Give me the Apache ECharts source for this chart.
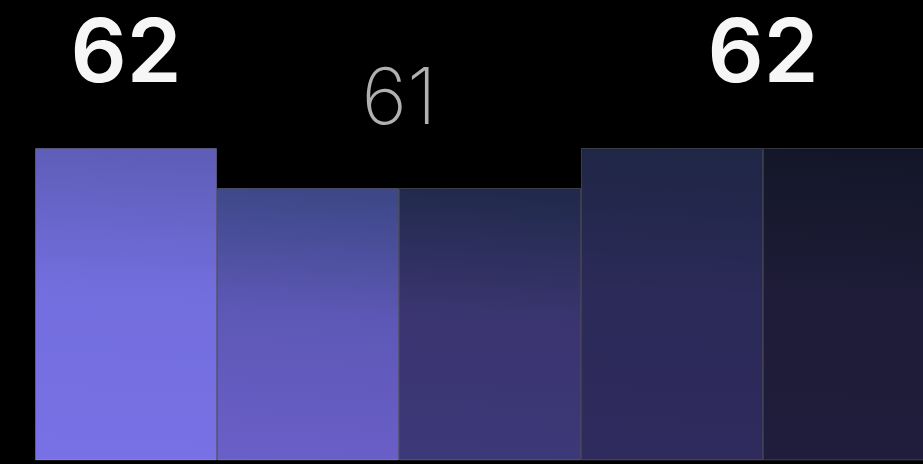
<!DOCTYPE html>
<html>
<head>
<meta charset="utf-8">
<script src="https://cdn.jsdelivr.net/npm/echarts@6/dist/echarts.min.js"></script>
<style>
html,body{margin:0;padding:0;background:#000;overflow:hidden;}
#chart{width:923px;height:464px;}
</style>
</head>
<body>
<div id="chart"></div>
<script>
// Data
var categories = ["1", "2", "3", "4", "5"];
var barValues = [62, 61, 61, 62, 62];
var labelPositions = [0, 1.5, 3.5];      // group centres on the category scale
var labelValues = [62, 61, 62];
var labelEmphasis = [true, false, true];

// Styles
var gradients = [
  ["#5e5eb8", "#736ede", "#7871e6"],
  ["#3e4888", "#5d58b6", "#6a5fc8"],
  ["#212a4c", "#3a3570", "#3d3878"],
  ["#1f2646", "#2b2a58", "#302b5e"],
  ["#131628", "#1e1c38", "#201c3c"]
];
function grad(c) {
  return new echarts.graphic.LinearGradient(0.1, 0, 0, 1, [
    {offset: 0, color: c[0]}, {offset: 0.45, color: c[1]}, {offset: 1, color: c[2]}
  ]);
}

var chart = echarts.init(document.getElementById('chart'), null, {renderer: 'canvas'});
var barData = barValues.map(function (v, i) {
  return {value: v, itemStyle: {color: grad(gradients[i])}};
});
var labelData = labelValues.map(function (v, i) {
  var strong = labelEmphasis[i];
  return {
    value: [labelPositions[i], v],
    label: strong ? {
      fontSize: 88, fontWeight: 600, color: '#f6f6f6', offset: [0, -92]
    } : {
      fontSize: 78, fontWeight: 200, color: '#b0b0b0', offset: [0, -87]
    }
  };
});

chart.setOption({
  backgroundColor: '#000',
  animation: false,
  grid: {left: 35, width: 910, top: 68, bottom: 4, outerBoundsMode: 'none', containLabel: false},
  xAxis: [
    {type: 'category', data: categories, show: false, boundaryGap: true},
    {type: 'value', min: -0.5, max: 4.5, show: false}
  ],
  yAxis: {type: 'value', min: 54.2, max: 64, show: false},
  series: [
    {
      type: 'bar',
      data: barData,
      barCategoryGap: '0%',
      barWidth: '100%',
      itemStyle: {borderColor: 'rgba(255,255,255,0.18)', borderWidth: 1}
    },
    {
      type: 'scatter',
      xAxisIndex: 1,
      symbolSize: 0,
      itemStyle: {opacity: 1},
      data: labelData,
      label: {
        show: true,
        position: 'inside',
        fontFamily: 'Inter',
        opacity: 1,
        formatter: function (p) { return p.value[1]; }
      },
      z: 5
    }
  ]
});
</script>
</body>
</html>
